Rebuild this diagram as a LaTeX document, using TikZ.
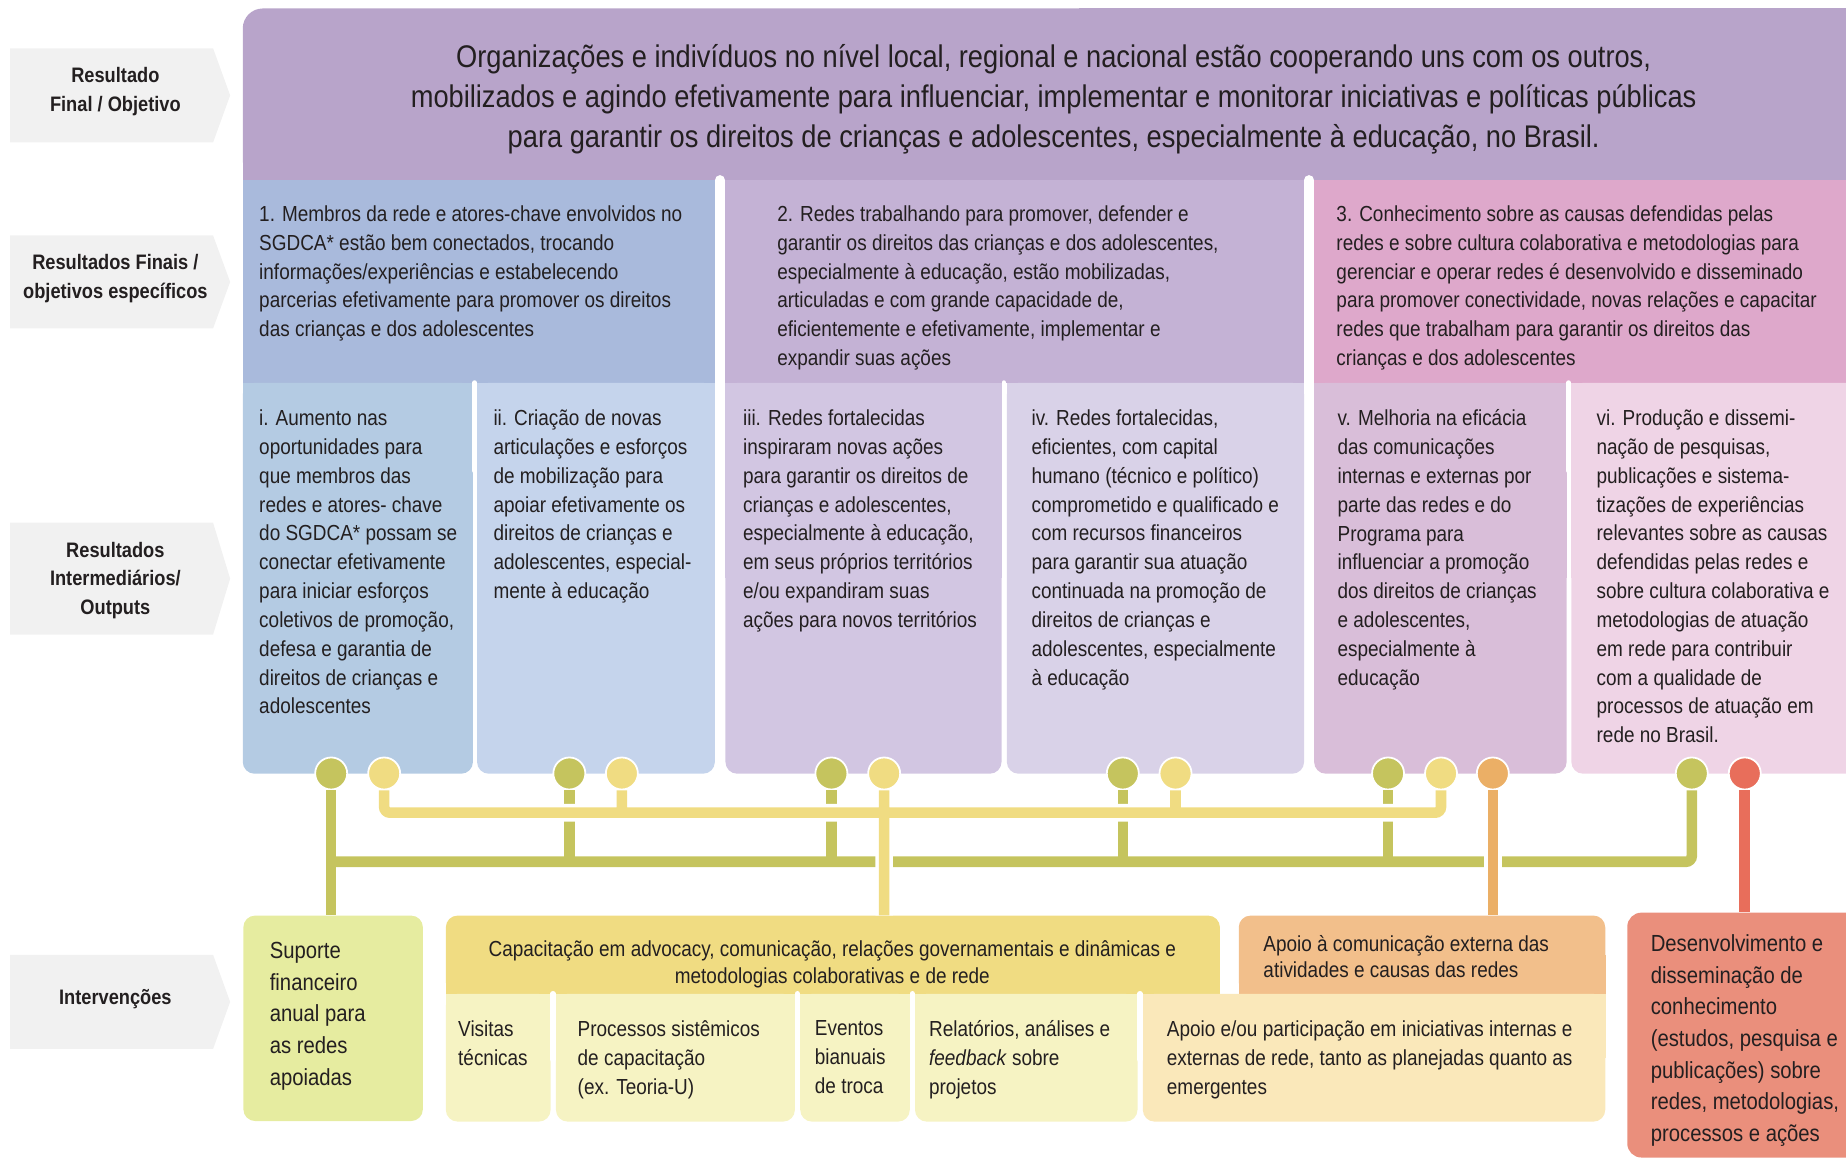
\documentclass[tikz,border=0pt]{standalone}
\usepackage{fontspec}
\setmainfont{Liberation Sans}[FakeStretch=0.87]
\usetikzlibrary{positioning,calc}
\definecolor{ink}{HTML}{231F20}
\definecolor{tagfill}{HTML}{F1F1F1}
\definecolor{goalviolet}{HTML}{B8A4CA}
\definecolor{aimblue}{HTML}{A9BADC}
\definecolor{aimlilac}{HTML}{C4B2D5}
\definecolor{aimpink}{HTML}{DEA8CB}
\definecolor{outblue}{HTML}{B4CBE3}
\definecolor{outsky}{HTML}{C5D4EC}
\definecolor{outlilac}{HTML}{D2C6E2}
\definecolor{outmist}{HTML}{D9D2E8}
\definecolor{outmauve}{HTML}{D9BED9}
\definecolor{outrose}{HTML}{EFD4E6}
\definecolor{olive}{HTML}{C5C45E}
\definecolor{sand}{HTML}{F0DC82}
\definecolor{amber}{HTML}{EBAF66}
\definecolor{coral}{HTML}{E86E5B}
\definecolor{lime}{HTML}{E6ECA0}
\definecolor{actlight}{HTML}{F6F3C3}
\definecolor{amberlight}{HTML}{F2BF8B}
\definecolor{peach}{HTML}{FAE8BA}
\definecolor{salmon}{HTML}{EA8F7C}
\tikzset{
  stagebox/.style={fill=tagfill},
  stagetext/.style={font=\bfseries\fontsize{17.8}{24.3}\selectfont,align=center,text=ink,inner sep=0pt},
  panel/.style={anchor=north west,inner sep=0pt,draw=none},
  bodytext/.style={font=\fontsize{18.5}{24.5}\selectfont,align=left,anchor=north west,
                   inner sep=0pt,text=ink,execute at begin node=\strut},
  knob/.style={circle,minimum size=27.2pt,inner sep=0pt,draw=white,line width=1.5pt},
  wire/.style={line width=9pt},
  halo/.style={preaction={draw=white,line width=15pt}},
  seam/.style={draw=white,line cap=round},
}
\newcommand{\stagetag}[5]{%
  \fill[stagebox] (8.5,#1) -- (181,#1) -- (195.5,{(#1+#2)/2}) -- (181,#2) -- (8.5,#2) -- cycle;
  \node[stagetext] (#4) at (98,{(#1+#2)/2+#3}) {#5};
}
\newcommand{\aimbox}[6]{%
  \node[panel,fill=#3,minimum width={(#2-#1)*1pt},minimum height=172pt] (#4) at (#1,153) {};
  \node[bodytext] (#4-txt) at (#5,174.5) {#6};
}
\newcommand{\outbox}[6]{%
  \node[panel,fill=#3,rounded corners=10pt,minimum width={(#2-#1)*1pt},minimum height=332pt] (#4) at (#1,325) {};
  \fill[#3] (#4.north west) rectangle (#4.east);
  \node[bodytext] (#4-txt) at (#5,347.8) {#6};
}
\newcommand{\actbox}[6]{%
  \node[panel,fill=#3,rounded corners=10pt,minimum width={(#2-#1)*1pt},minimum height=108.5pt] (#4) at (#1,844) {};
  \fill[#3] (#4.north west) rectangle (#4.east);
  \node[bodytext] (#4-txt) at (#5,866.8) {#6};
}

\begin{document}
\begin{tikzpicture}[x=1pt,y=-1pt]
  \useasboundingbox (0,0) rectangle (1568,984);
  \clip (0,0) rectangle (1568,984);

  \stagetag{41}{121}{-3}{lvl-goal}{Resultado\\Final / Objetivo}
  \stagetag{200}{279}{-3}{lvl-aims}{Resultados Finais /\\objetivos específicos}
  \stagetag{444}{539}{1.5}{lvl-out}{Resultados\\Intermediários/\\Outputs}
  \stagetag{811}{891}{-2}{lvl-act}{Intervenções}

  % final result
  \node[panel,fill=goalviolet,rounded corners=17pt,minimum width=1420pt,minimum height=146pt] (goal) at (206,7) {};
  \fill[goalviolet] (goal.north) rectangle (goal.south east);
  \fill[goalviolet] (goal.west) rectangle (goal.south);
  \node[font=\fontsize{26.6}{34}\selectfont,align=center,anchor=north,inner sep=0pt,text=ink,
        execute at begin node=\strut] (goal-txt) at (895,37.5)
    {Organizações e indivíduos no nível local, regional e nacional estão cooperando uns com os outros,\\
     mobilizados e agindo efetivamente para influenciar, implementar e monitorar iniciativas e políticas públicas\\
     para garantir os direitos de crianças e adolescentes, especialmente à educação, no Brasil.};

  \aimbox{206}{607.5}{aimblue}{aim1}{220}{1. Membros da rede e atores-chave envolvidos no\\
    SGDCA* estão bem conectados, trocando\\informações/experiências e estabelecendo\\
    parcerias efetivamente para promover os direitos\\das crianças e dos adolescentes}
  \aimbox{615.5}{1108}{aimlilac}{aim2}{660}{2. Redes trabalhando para promover, defender e\\
    garantir os direitos das crianças e dos adolescentes,\\especialmente à educação, estão mobilizadas,\\
    articuladas e com grande capacidade de,\\eficientemente e efetivamente, implementar e\\expandir suas ações}
  \aimbox{1116}{1606}{aimpink}{aim3}{1135}{3. Conhecimento sobre as causas defendidas pelas\\
    redes e sobre cultura colaborativa e metodologias para\\gerenciar e operar redes é desenvolvido e disseminado\\
    para promover conectividade, novas relações e capacitar\\redes que trabalham para garantir os direitos das\\
    crianças e dos adolescentes}

  \outbox{206}{401.5}{outblue}{out1}{220}{i. Aumento nas\\oportunidades para\\que membros das\\
    redes e atores- chave\\do SGDCA* possam se\\conectar efetivamente\\para iniciar esforços\\
    coletivos de promoção,\\defesa e garantia de\\direitos de crianças e\\adolescentes}
  \outbox{405}{607}{outsky}{out2}{419}{ii. Criação de novas\\articulações e esforços\\de mobilização para\\
    apoiar efetivamente os\\direitos de crianças e\\adolescentes, especial-\\mente à educação}
  \outbox{616}{850.5}{outlilac}{out3}{631}{iii. Redes fortalecidas\\inspiraram novas ações\\
    para garantir os direitos de\\crianças e adolescentes,\\especialmente à educação,\\
    em seus próprios territórios\\e/ou expandiram suas\\ações para novos territórios}
  \outbox{855}{1107.5}{outmist}{out4}{876}{iv. Redes fortalecidas,\\eficientes, com capital\\
    humano (técnico e político)\\comprometido e qualificado e\\com recursos financeiros\\
    para garantir sua atuação\\continuada na promoção de\\direitos de crianças e\\
    adolescentes, especialmente\\à educação}
  \outbox{1116}{1330.5}{outmauve}{out5}{1136}{v. Melhoria na eficácia\\das comunicações\\
    internas e externas por\\parte das redes e do\\Programa para\\influenciar a promoção\\
    dos direitos de crianças\\e adolescentes,\\especialmente à\\educação}
  \outbox{1334.5}{1606}{outrose}{out6}{1356}{vi. Produção e dissemi-\\nação de pesquisas,\\
    publicações e sistema-\\tizações de experiências\\relevantes sobre as causas\\
    defendidas pelas redes e\\sobre cultura colaborativa e\\metodologias de atuação\\
    em rede para contribuir\\com a qualidade de\\processos de atuação em\\rede no Brasil.}

  \foreach \x in {611.5,1112}
    \draw[seam,line width=8.5pt] (\x,153) -- (\x,330);
  \foreach \x in {403.2,852.7,1332.5}
    \draw[seam,line width=4pt] (\x,325) -- (\x,400);

  \foreach \nm/\x/\col in {o1/281.3/olive,y1/326.3/sand,o2/483.6/olive,y2/528.2/sand,
                           o3/706.2/olive,y3/751/sand,o4/953.7/olive,y4/998.5/sand,
                           o5/1179/olive,y5/1224/sand,a1/1268/amber,o6/1437/olive,r1/1482/coral}
    \node[knob,fill=\col] (\nm) at (\x,657) {};

  % interventions
  \node[panel,fill=lime,rounded corners=10pt,minimum width=152.5pt,minimum height=174.5pt] (sup) at (206.5,777.5) {};
  \node[font=\fontsize{19.8}{26.9}\selectfont,align=left,anchor=north west,inner sep=0pt,text=ink,
        execute at begin node=\strut] (sup-txt) at (229,800.2)
    {Suporte\\financeiro\\anual para\\as redes\\apoiadas};

  \node[panel,fill=sand,rounded corners=10pt,minimum width=657.5pt,minimum height=66.5pt] (cap) at (378.5,777.5) {};
  \fill[sand] (cap.west) rectangle (cap.south east);
  \node[font=\fontsize{18.5}{22.8}\selectfont,align=center,anchor=north,inner sep=0pt,text=ink,
        execute at begin node=\strut] (cap-txt) at (707,798.75)
    {Capacitação em advocacy, comunicação, relações governamentais e dinâmicas e\\
     metodologias colaborativas e de rede};

  \node[panel,fill=amberlight,rounded corners=10pt,minimum width=311.3pt,minimum height=66.5pt] (com) at (1052,777.5) {};
  \fill[amberlight] (com.west) rectangle (com.south east);
  \node[bodytext,font=\fontsize{18.5}{22}\selectfont] (com-txt) at (1073,794.1)
    {Apoio à comunicação externa das\\atividades e causas das redes};

  \actbox{378.5}{467.5}{actlight}{visit}{389}{Visitas\\técnicas}
  \actbox{472}{675}{actlight}{proc}{490.5}{Processos sistêmicos\\de capacitação\\(ex. Teoria-U)}
  \actbox{679.5}{772.6}{actlight}{event}{692}{Eventos\\bianuais\\de troca}
  \actbox{777}{966}{actlight}{report}{789}{Relatórios, análises e\\\textit{feedback} sobre\\projetos}
  \actbox{970.5}{1363.3}{peach}{part}{991}{Apoio e/ou participação em iniciativas internas e\\
    externas de rede, tanto as planejadas quanto as\\emergentes}
  \foreach \x in {469.7,677.2,774.8,968.2}
    \draw[seam,line width=4.5pt] (\x,844) -- (\x,900);

  \node[panel,fill=salmon,rounded corners=12pt,minimum width=300pt,minimum height=208pt] (dev) at (1382,775) {};
  \node[font=\fontsize{19.8}{26.9}\selectfont,align=left,anchor=north west,inner sep=0pt,text=ink,
        execute at begin node=\strut] (dev-txt) at (1402,793.6)
    {Desenvolvimento e\\disseminação de\\conhecimento\\(estudos, pesquisa e\\publicações) sobre\\
     redes, metodologias,\\processos e ações};

  % links from outputs to interventions
  \coordinate (busY) at (0,690.3);
  \coordinate (busO) at (0,732);
  \draw[wire,draw=olive,rounded corners=5pt] (o1.south |- busO) -| (o6.south);
  \draw[wire,draw=olive] (o1.south) -- (o1.south |- sup.north);
  \foreach \p in {o2,o3,o4,o5}
    \draw[wire,draw=olive] (\p.south) -- (\p.south |- busO);
  \draw[wire,draw=sand,halo,rounded corners=5pt] (y1.south) |- (y5.south |- busY) -- (y5.south)
    (y2.south) -- (y2.south |- busY) (y4.south) -- (y4.south |- busY)
    (y3.south) -- (y3.south |- cap.north);
  \draw[wire,draw=amber,halo] (a1.south) -- (a1.south |- com.north);
  \draw[wire,draw=coral] (r1.south) -- (r1.south |- dev.north);
\end{tikzpicture}
\end{document}
